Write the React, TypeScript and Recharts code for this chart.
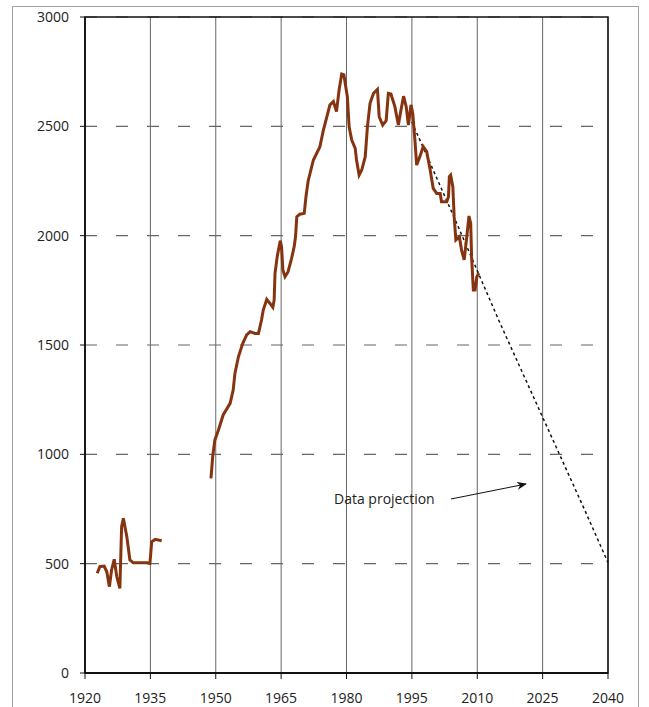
import { CartesianGrid, Line, LineChart, ReferenceArea, XAxis, YAxis } from "recharts";

const yearTicks = [1920, 1935, 1950, 1965, 1980, 1995, 2010, 2025, 2040];
const outputTicks = [0, 500, 1000, 1500, 2000, 2500, 3000];

const prewarYears = [
  1922.8, 1923.4, 1924.4, 1925.0, 1925.6, 1926.1, 1926.7, 1927.3, 1928.0, 1928.4, 1928.8, 1929.6, 1930.3,
  1931.1, 1934.2, 1934.9, 1935.3, 1936.1, 1937.6,
];
const prewarOutput = [456, 486, 489, 463, 395, 471, 520, 440, 387, 669, 707, 623, 517, 504, 504, 501, 600, 611, 605];

const postwarYears = [
  1948.9, 1949.3, 1949.8, 1950.6, 1951.7, 1953.3, 1954.0, 1954.4, 1955.2, 1956.2, 1957.1, 1957.9, 1959.0,
  1959.8, 1960.5, 1960.9, 1961.7, 1962.4, 1963.1, 1963.4, 1963.6, 1964.1, 1964.8, 1965.1, 1965.4, 1965.9,
  1966.6, 1967.4, 1968.0, 1968.3, 1968.6, 1969.3, 1970.3, 1970.7, 1971.2, 1972.4, 1973.9, 1974.7, 1975.5,
  1976.2, 1977.0, 1977.7, 1978.3, 1978.9, 1979.4, 1980.2, 1980.6, 1981.2, 1982.0, 1982.3, 1982.9, 1983.5,
  1984.3, 1984.8, 1985.4, 1986.2, 1987.1, 1987.5, 1988.3, 1989.1, 1989.6, 1990.2, 1991.1, 1991.9, 1992.5,
  1993.1, 1993.7, 1994.2, 1994.8, 1995.2, 1995.7, 1996.1, 1996.9, 1997.6, 1998.4, 1999.2, 1999.9, 2000.7,
  2001.5, 2001.8, 2003.0, 2003.4, 2003.6, 2003.9, 2004.4, 2004.7, 2005.1, 2005.9, 2006.4, 2007.0, 2007.6,
  2008.1, 2008.5, 2008.7, 2009.1, 2009.5, 2009.9, 2010.4,
];
const postwarOutput = [
  890, 990, 1066, 1110, 1180, 1233, 1294, 1370, 1446, 1508, 1546, 1561, 1553,
  1553, 1614, 1660, 1709, 1691, 1672, 1706, 1828, 1904, 1977, 1950, 1843, 1812,
  1835, 1896, 1950, 1995, 2087, 2098, 2102, 2178, 2250, 2346, 2407, 2483, 2544,
  2598, 2613, 2567, 2666, 2739, 2735, 2635, 2498, 2437, 2399, 2346, 2277, 2300,
  2361, 2498, 2605, 2651, 2669, 2544, 2506, 2526, 2651, 2648, 2590, 2506, 2575,
  2638, 2590, 2506, 2598, 2559, 2437, 2323, 2365, 2407, 2384, 2300, 2216, 2193,
  2193, 2155, 2155, 2178, 2270, 2277, 2224, 2087, 1980, 1995, 1934, 1889, 1995,
  2090, 2056, 1904, 1751, 1751, 1812, 1828,
];

const projectionYears = [1995, 2000, 2005, 2010, 2015, 2020, 2025, 2030, 2035, 2040];
const projectionOutput = [2520, 2295, 2070, 1840, 1610, 1390, 1170, 950, 730, 505];

const prewar = prewarYears.map((year, i) => ({ year, output: prewarOutput[i] }));
const postwar = postwarYears.map((year, i) => ({ year, output: postwarOutput[i] }));
const projection = projectionYears.map((year, i) => ({ year, output: projectionOutput[i] }));

const font = "'Open Sans', 'Noto Sans', sans-serif";

export default function App() {
  return (
    <div style={{ position: "absolute", left: 0, top: 0, width: 649, height: 707, overflow: "hidden", background: "#fff" }}>
      <div
        style={{
          position: "absolute",
          left: 12,
          top: 6,
          width: 627,
          height: 720,
          border: "1px solid #a0a0a0",
          boxSizing: "border-box",
        }}
      />
      <div style={{ position: "absolute", left: 0, top: 0 }}>
        <LineChart width={649} height={707} margin={{ top: 17, right: 41, bottom: 0, left: 0 }}>
          <CartesianGrid horizontal={false} stroke="#666" strokeWidth={1} />
          <CartesianGrid vertical={false} stroke="#666" strokeWidth={1.2} strokeDasharray="12 19" />
          <XAxis
            dataKey="year"
            type="number"
            domain={[1920, 2040]}
            ticks={yearTicks}
            height={34}
            tickSize={6}
            tickMargin={14}
            axisLine={{ stroke: "#111", strokeWidth: 2 }}
            tickLine={{ stroke: "#111" }}
            tick={{ fontSize: 14, fill: "#222", fontFamily: font }}
          />
          <YAxis
            type="number"
            domain={[0, 3000]}
            ticks={outputTicks}
            width={85}
            tickSize={5}
            tickMargin={11}
            axisLine={{ stroke: "#111", strokeWidth: 1.5 }}
            tickLine={{ stroke: "#111" }}
            tick={{ fontSize: 14, fill: "#222", fontFamily: font }}
          />
          <ReferenceArea x1={1920} x2={2040} y1={0} y2={3000} fill="none" stroke="#111" strokeWidth={1.5} />
          <Line
            data={projection}
            dataKey="output"
            type="linear"
            stroke="#111"
            strokeWidth={1.5}
            strokeDasharray="3 3"
            dot={false}
            isAnimationActive={false}
          />
          <Line
            data={prewar}
            dataKey="output"
            type="linear"
            stroke="#863410"
            strokeWidth={3}
            dot={false}
            isAnimationActive={false}
          />
          <Line
            data={postwar}
            dataKey="output"
            type="linear"
            stroke="#863410"
            strokeWidth={3}
            dot={false}
            isAnimationActive={false}
          />
        </LineChart>
      </div>
      <svg width={649} height={707} style={{ position: "absolute", left: 0, top: 0, pointerEvents: "none" }}>
        <defs>
          <marker id="arrowhead" markerWidth="10" markerHeight="8" refX="9" refY="4" orient="auto" markerUnits="userSpaceOnUse">
            <path d="M0,0 L10,4 L0,8 L3,4 Z" fill="#111" />
          </marker>
        </defs>
        <text x={334} y={504} fontSize={14} fill="#222" fontFamily={font}>
          Data projection
        </text>
        <line x1={451} y1={499} x2={526} y2={484} stroke="#111" strokeWidth={1} markerEnd="url(#arrowhead)" />
      </svg>
    </div>
  );
}
